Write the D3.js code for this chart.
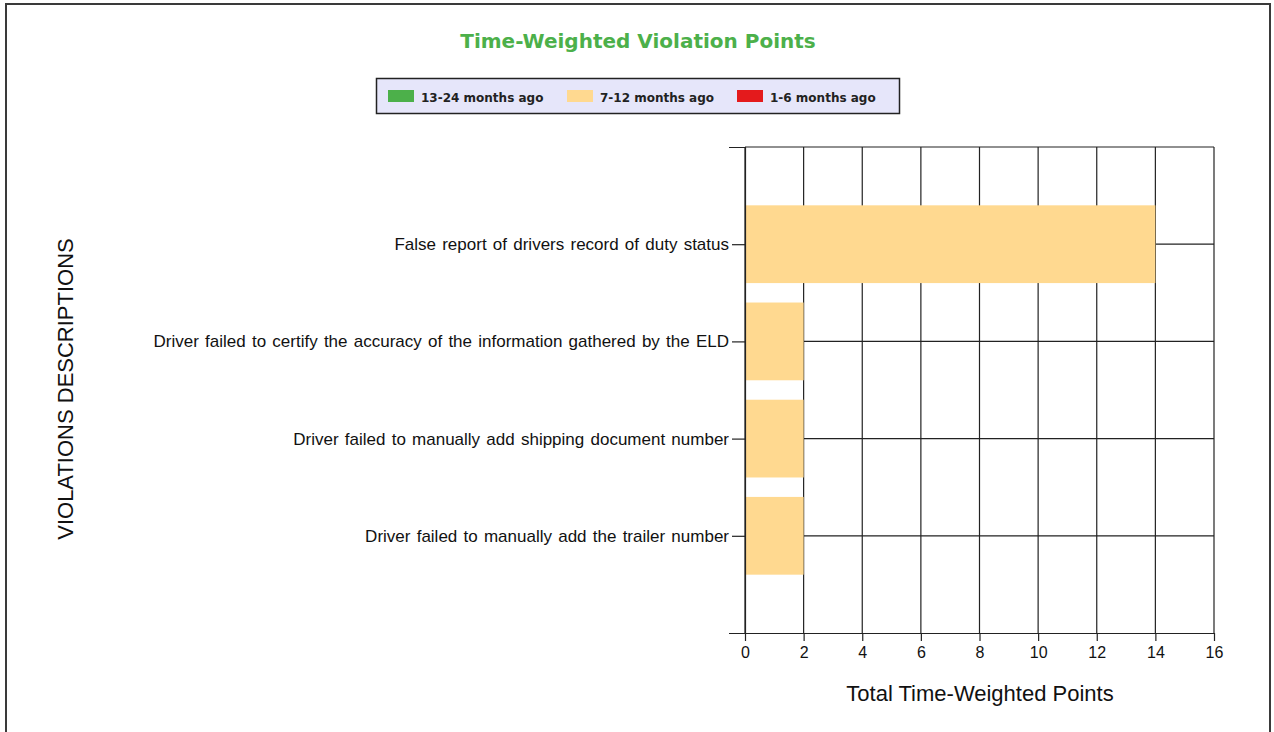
<!DOCTYPE html>
<html>
<head>
<meta charset="utf-8">
<script src="https://cdn.jsdelivr.net/npm/d3@7"></script>
<style>
  body { margin: 0; background: #fff; }
  svg { display: block; }
</style>
</head>
<body>
<svg id="chart"></svg>
<script>
const width = 1274
const height = 732

// data
const violations = [
  "False report of drivers record of duty status",
  "Driver failed to certify the accuracy of the information gathered by the ELD",
  "Driver failed to manually add shipping document number",
  "Driver failed to manually add the trailer number"
]
const points13to24 = [0, 0, 0, 0]
const points7to12 = [14, 2, 2, 2]
const points1to6 = [0, 0, 0, 0]
const seriesNames = ["13-24 months ago", "7-12 months ago", "1-6 months ago"]
const seriesColors = ["#4cb04a", "#ffd990", "#e41a1c"]
const xTicks = [0, 2, 4, 6, 8, 10, 12, 14, 16]

const plotLeft = 745
const plotRight = 1214
const plotTop = 147
const plotBottom = 633

const svg = d3.select("#chart")
  .attr("width", width)
  .attr("height", height)

// outer frame
svg.append("rect")
  .attr("x", 6).attr("y", 4)
  .attr("width", 1264).attr("height", 740)
  .attr("fill", "none")
  .attr("stroke", "#3a3a3a")
  .attr("stroke-width", 2)

svg.append("text")
  .attr("x", 638).attr("y", 48)
  .attr("text-anchor", "middle")
  .attr("font-family", "DejaVu Sans")
  .attr("font-weight", "bold")
  .attr("font-size", 20)
  .attr("fill", "#4cb04a")
  .text("Time-Weighted Violation Points")

// legend
svg.append("rect")
  .attr("x", 376.5).attr("y", 78.5)
  .attr("width", 523).attr("height", 35)
  .attr("fill", "#e6e6fa")
  .attr("stroke", "#222")
  .attr("stroke-width", 1.5)
const legendX = [388, 567, 737]
seriesNames.forEach((name, i) => {
  const g = svg.append("g").attr("transform", `translate(${legendX[i]}, 90)`)
  g.append("rect")
    .attr("width", 26).attr("height", 12)
    .attr("fill", seriesColors[i])
  g.append("text")
    .attr("x", 33).attr("y", 12)
    .attr("font-family", "DejaVu Sans")
    .attr("font-weight", "bold")
    .attr("font-size", 12)
    .attr("fill", "#222")
    .text(name)
})

const x = d3.scaleLinear()
  .domain([0, 16])
  .range([plotLeft, plotRight])

const y = d3.scalePoint()
  .domain(violations)
  .range([plotTop, plotBottom])
  .padding(1)

const barH = y.step() * 0.8

// gridlines
svg.append("g")
  .selectAll("line")
  .data(xTicks)
  .join("line")
  .attr("x1", d => x(d)).attr("x2", d => x(d))
  .attr("y1", plotTop).attr("y2", plotBottom)
  .attr("stroke", "#222")
  .attr("stroke-width", 1.2)

svg.append("g")
  .selectAll("line")
  .data(violations)
  .join("line")
  .attr("x1", plotLeft).attr("x2", plotRight)
  .attr("y1", d => y(d)).attr("y2", d => y(d))
  .attr("stroke", "#222")
  .attr("stroke-width", 1.2)

svg.append("line")
  .attr("x1", plotLeft).attr("x2", plotRight)
  .attr("y1", plotTop).attr("y2", plotTop)
  .attr("stroke", "#222")
  .attr("stroke-width", 1.2)

// stacked bars
const stackData = violations.map((v, i) => ({
  name: v,
  s0: points13to24[i],
  s1: points7to12[i],
  s2: points1to6[i]
}))
const stacked = d3.stack().keys(["s0", "s1", "s2"])(stackData)

svg.append("g")
  .selectAll("g")
  .data(stacked)
  .join("g")
  .attr("fill", (d, i) => seriesColors[i])
  .selectAll("rect")
  .data(d => d.filter(p => p[1] > p[0]))
  .join("rect")
  .attr("x", d => x(d[0]) + 1)
  .attr("width", d => x(d[1]) - x(d[0]) - 1)
  .attr("y", d => y(d.data.name) - barH / 2)
  .attr("height", barH)

// axes
const yAxis = svg.append("g")
  .attr("transform", `translate(${plotLeft}, 0)`)
  .call(d3.axisLeft(y).tickSize(13).tickSizeOuter(16).tickPadding(3))
yAxis.selectAll("text")
  .attr("font-family", "Liberation Sans")
  .attr("font-size", 17)
  .attr("word-spacing", 1.5)
  .attr("fill", "#111")
yAxis.selectAll("line, path").attr("stroke", "#222").attr("stroke-width", 1.2)

const xAxis = svg.append("g")
  .attr("transform", `translate(0, ${plotBottom})`)
  .call(d3.axisBottom(x).tickValues(xTicks).tickSize(8).tickSizeOuter(0).tickPadding(6))
xAxis.selectAll("text")
  .attr("font-family", "Liberation Sans")
  .attr("font-size", 16)
  .attr("fill", "#111")
xAxis.selectAll("line, path").attr("stroke", "#222").attr("stroke-width", 1.2)

svg.append("text")
  .attr("x", 980).attr("y", 701)
  .attr("text-anchor", "middle")
  .attr("font-family", "Liberation Sans")
  .attr("font-size", 22)
  .attr("fill", "#111")
  .text("Total Time-Weighted Points")

svg.append("text")
  .attr("transform", "translate(73, 389) rotate(-90)")
  .attr("text-anchor", "middle")
  .attr("font-family", "Liberation Sans")
  .attr("font-size", 22)
  .attr("fill", "#111")
  .text("VIOLATIONS DESCRIPTIONS")
</script>
</body>
</html>
